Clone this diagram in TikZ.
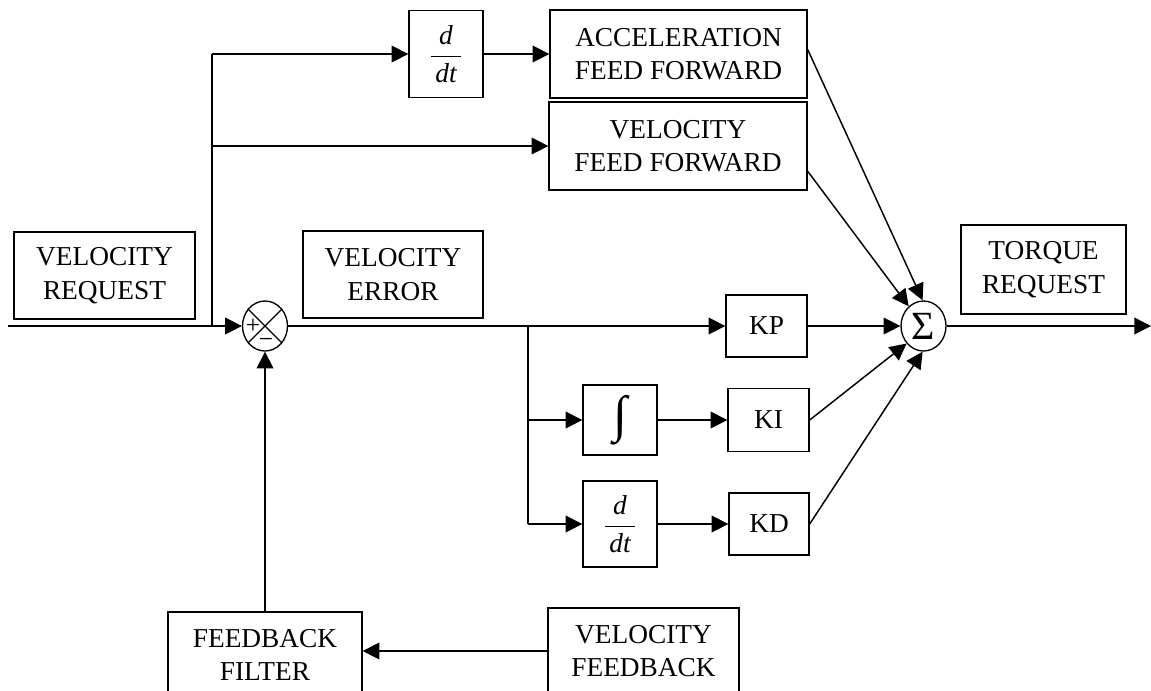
\documentclass[tikz,border=0pt]{standalone}
\usepackage{fontspec}
\setmainfont{Liberation Serif}
\usetikzlibrary{arrows.meta,shapes.geometric}
\begin{document}
\begin{tikzpicture}[x=0.75pt,y=-0.75pt,
  lw/.style={line width=1.1pt},
  arr/.style={lw,-{Triangle[length=12.5pt,width=12.5pt]}},
  blk/.style={draw,line width=1pt,inner sep=0pt,align=center,font=\fontsize{20.5}{25}\selectfont},
  junc/.style={draw,line width=1pt,ellipse,inner sep=0pt,minimum width=33.75pt,minimum height=37.5pt},
  sgn/.style={inner sep=0pt,font=\fontsize{19}{19}\selectfont}]
\useasboundingbox (0,0) rectangle (1151,690);
\clip (0,0) rectangle (1151,690);

% blocks
\node[blk,minimum width=135.75pt,minimum height=65.25pt] (vreq) at (104.5,275.5) {VELOCITY\\REQUEST};
\node[blk,minimum width=135pt,minimum height=65.25pt] (verr) at (393,274.5) {VELOCITY\\ERROR};
\node[blk,minimum width=55.5pt,minimum height=65.25pt] (ddt1) at (446,54) {$\displaystyle\frac{\mbox{\itshape d}}{\,\mbox{\itshape dt}\,}$};
\node[blk,minimum width=192.75pt,minimum height=66pt] (aff) at (678.5,54) {ACCELERATION\\FEED FORWARD};
\node[blk,minimum width=193.5pt,minimum height=66pt] (vff) at (678,146) {VELOCITY\\FEED FORWARD};
\node[blk,minimum width=60.75pt,minimum height=46.5pt] (kp) at (766.5,326) {KP};
\node[blk,minimum width=55.5pt,minimum height=52.5pt,font=\fontsize{38}{38}\selectfont] (integ) at (620,420) {∫};
\node[blk,minimum width=60.75pt,minimum height=47.25pt] (ki) at (768.5,420) {KI};
\node[blk,minimum width=55.5pt,minimum height=64.5pt] (ddt2) at (620,524) {$\displaystyle\frac{\mbox{\itshape d}}{\,\mbox{\itshape dt}\,}$};
\node[blk,minimum width=60pt,minimum height=46.5pt] (kd) at (769,524) {KD};
\node[blk,minimum width=123.75pt,minimum height=66.75pt] (tq) at (1043.5,269.5) {TORQUE\\REQUEST};
\node[blk,minimum width=145.5pt,minimum height=64.5pt] (ff) at (265,655) {FEEDBACK\\FILTER};
\node[blk,minimum width=143.25pt,minimum height=64.5pt] (vfb) at (643.5,651) {VELOCITY\\FEEDBACK};

% junctions
\node[junc] (sj) at (265,326) {};
\draw[line width=1pt] (sj.45) -- (sj.225) (sj.135) -- (sj.315);
\node[sgn] (plus) at (253,326) {+};
\node[sgn] (minus) at (266,343) {−};
\node[junc] (sig) at (923.5,326) {};
\node[inner sep=0pt,font=\fontsize{30}{30}\selectfont] (sigma) at (sig) {Σ};

% coordinates
\coordinate (in) at (8,326);
\coordinate (b1) at (212,326);
\coordinate (b1top) at (212,54);
\coordinate (b1mid) at (212,146);
\coordinate (b2) at (528,326);
\coordinate (b2i) at (528,420);
\coordinate (b2d) at (528,524);
\coordinate (out) at (1151,326);

% connectors
\draw[arr] (in) -- (sj.west);
\draw[lw] (b1) -- (b1top);
\draw[arr] (b1top) -- (ddt1.west);
\draw[arr] (b1mid) -- (vff.west);
\draw[arr] (ddt1.east) -- (aff.west);
\draw[arr] (sj.east) -- (kp.west);
\draw[lw] (b2) -- (b2d);
\draw[arr] (b2i) -- (integ.west);
\draw[arr] (b2d) -- (ddt2.west);
\draw[arr] (integ.east) -- (ki.west);
\draw[arr] (ddt2.east) -- (kd.west);
\draw[arr] (kp.east) -- (sig.west);
\draw[arr] (aff.2.2) -- (sig.92);
\draw[arr] (vff.-11.4) -- (sig.127);
\draw[arr] (ki.east) -- (sig.226);
\draw[arr] (kd.east) -- (sig.268);
\draw[arr] (sig.east) -- (out);
\draw[arr] (vfb.west) -- (vfb.west -| ff.east);
\draw[arr] (ff.north) -- (sj.south);
\end{tikzpicture}
\end{document}
